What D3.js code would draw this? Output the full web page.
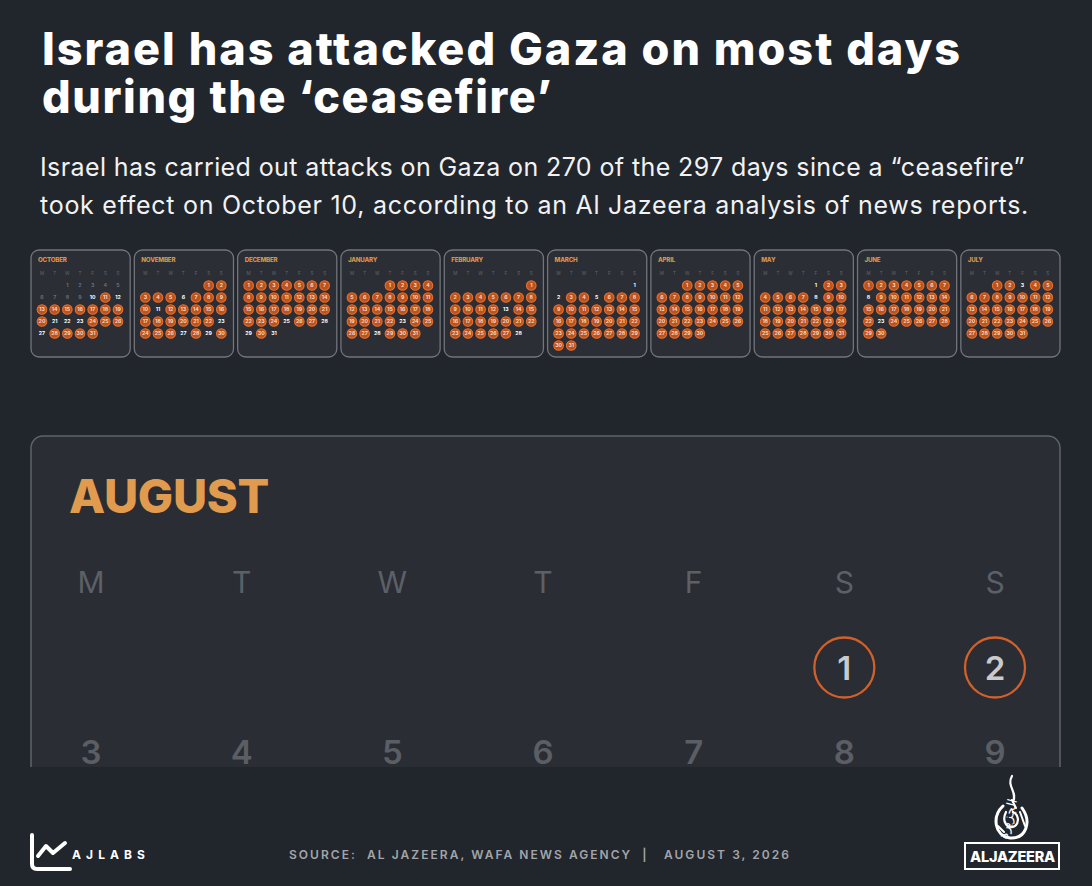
<!DOCTYPE html>
<html><head><meta charset="utf-8">
<script src="https://cdn.jsdelivr.net/npm/d3@7"></script>
<style>
html,body{margin:0;padding:0;background:#21252c;}
svg{display:block;}
</style></head><body>
<svg id="chart" width="1092" height="886"></svg>
<script>
// ---------------- DATA ----------------
const titleLines = ["Israel has attacked Gaza on most days", "during the \u2018ceasefire\u2019"];
const subtitleLines = [
  "Israel has carried out attacks on Gaza on 270 of the 297 days since a \u201cceasefire\u201d",
  "took effect on October 10, according to an Al Jazeera analysis of news reports."
];
const weekdayLabels = ["M","T","W","T","F","S","S"];
const monthNames = ["OCTOBER","NOVEMBER","DECEMBER","JANUARY","FEBRUARY","MARCH","APRIL","MAY","JUNE","JULY"];
const monthYears = [2025,2025,2025,2026,2026,2026,2026,2026,2026,2026];
const monthIndex = [9,10,11,0,1,2,3,4,5,6];
const ceasefireStart = {month: "OCTOBER", day: 10};
const attackedOct = [11,13,14,15,16,17,18,19,20,24,25,26,28,29,30,31];
const attackedNov = [1,2,3,4,5,7,8,9,10,12,13,14,15,16,17,18,19,20,21,22,24,25,26,28,30];
const attackedDec = [1,2,3,4,5,6,7,8,9,10,11,12,13,14,15,16,17,18,19,20,21,22,23,24,26,27,30];
const attackedJan = [1,2,3,4,5,6,7,8,9,10,11,12,13,14,15,16,17,18,19,20,21,22,24,25,26,27,29,30,31];
const attackedFeb = [1,2,3,4,5,6,7,8,9,10,11,12,14,15,16,17,18,19,20,21,22,23,24,25,26,27];
const attackedMar = [3,4,6,7,8,9,10,11,12,13,14,15,16,17,18,19,20,21,22,23,24,25,26,27,28,29,30,31];
const attackedApr = [1,2,3,4,5,6,7,8,9,10,11,12,13,14,15,16,17,18,19,20,21,22,23,24,25,26,27,28,29,30];
const attackedMay = [2,3,4,5,6,7,9,10,11,12,13,14,15,16,17,18,19,20,21,22,23,24,25,26,27,28,29,30,31];
const attackedJun = [1,2,3,4,5,6,7,9,10,11,12,13,14,15,16,17,18,19,20,21,22,24,25,26,27,28,29,30];
const attackedJul = [1,2,4,5,6,7,8,9,10,11,12,13,14,15,16,17,18,19,20,21,22,23,24,25,26,27,28,29,30,31];
const attackedByMonth = [attackedOct, attackedNov, attackedDec, attackedJan, attackedFeb, attackedMar, attackedApr, attackedMay, attackedJun, attackedJul];
const currentMonth = {name: "AUGUST", year: 2026, index: 7};
const attackedAug = [1,2];
const visibleAugWeeks = 2; // only the first two weeks are visible in the frame
const sourceText = "SOURCE:  AL JAZEERA, WAFA NEWS AGENCY  |   AUGUST 3, 2026";
const brandText = "AJLABS";
const logoText = "ALJAZEERA";
const logoArabic = "\u0627\u0644\u062c\u0632\u064a\u0631\u0629";

// ---------------- HELPERS ----------------
const FONT = "Inter, 'Noto Sans', sans-serif";
const svg = d3.select("#chart");
const W = 1092, H = 886;
svg.append("rect").attr("width", W).attr("height", H).attr("fill", "#21252c");

function fitWidth(sel, target) {
  const w = sel.node().getComputedTextLength();
  const n = sel.text().length;
  sel.attr("letter-spacing", ((target - w) / n).toFixed(3));
}
function monFirst(y, m) { return (new Date(y, m, 1).getDay() + 6) % 7; }
function daysIn(y, m) { return new Date(y, m + 1, 0).getDate(); }
function buildDays(y, m) {
  const off = monFirst(y, m), n = daysIn(y, m);
  return d3.range(1, n + 1).map(d => ({day: d, col: (off + d - 1) % 7, row: Math.floor((off + d - 1) / 7)}));
}

// ---------------- TITLE ----------------
const titleY = [65, 113];
titleLines.forEach((t, i) => {
  const s = svg.append("text").attr("x", 42).attr("y", titleY[i])
    .attr("fill", "#ffffff").attr("font-family", FONT).attr("font-weight", 800)
    .attr("font-size", 45).text(t);
  fitWidth(s, i === 0 ? 920 : 511);
});
const subY = [176, 214];
subtitleLines.forEach((t, i) => {
  const s = svg.append("text").attr("x", 40).attr("y", subY[i])
    .attr("fill", "#f2f2f2").attr("font-family", FONT).attr("font-weight", 400)
    .attr("font-size", 25).text(t);
  fitWidth(s, i === 0 ? 985 : 989);
});

// ---------------- MINI CALENDARS ----------------
const monthBand = d3.scaleBand().domain(monthNames).range([31, 1060]).paddingInner(0.04);
const miniX = d3.scalePoint().domain(d3.range(7)).range([11, 87]);
const miniY = d3.scaleLinear().domain([0, 1]).range([285.5, 297.5]);
const boxTop = 250, boxH = 107;

monthNames.forEach((name, mi) => {
  const g = svg.append("g").attr("transform", `translate(${monthBand(name)},0)`);
  g.append("rect").attr("x", 0).attr("y", boxTop).attr("width", monthBand.bandwidth()).attr("height", boxH)
    .attr("rx", 8).attr("fill", "#2b2e35").attr("stroke", "#72757b").attr("stroke-width", 1.3);
  g.append("text").attr("x", 7).attr("y", 262).attr("fill", "#d9954a")
    .attr("font-family", FONT).attr("font-weight", 800).attr("font-size", 6.2).attr("letter-spacing", -0.2)
    .text(name);
  g.selectAll("text.wd").data(weekdayLabels).join("text").attr("class", "wd")
    .attr("x", (d, i) => miniX(i)).attr("y", 274.5).attr("text-anchor", "middle")
    .attr("fill", "#62666c").attr("font-family", FONT).attr("font-size", 4.5).text(d => d);
  const attacked = new Set(attackedByMonth[mi]);
  const days = buildDays(monthYears[mi], monthIndex[mi]).map(d => Object.assign(d, {
    hit: attacked.has(d.day),
    before: name === ceasefireStart.month && d.day < ceasefireStart.day
  }));
  g.selectAll("circle.hit").data(days.filter(d => d.hit)).join("circle").attr("class", "hit")
    .attr("cx", d => miniX(d.col)).attr("cy", d => miniY(d.row)).attr("r", 4.8)
    .attr("fill", "#bb531c").attr("stroke", "#ea6d2c").attr("stroke-width", 1.1);
  g.selectAll("text.day").data(days).join("text").attr("class", "day")
    .attr("x", d => miniX(d.col)).attr("y", d => miniY(d.row) + 1.9).attr("text-anchor", "middle")
    .attr("fill", d => d.before ? "#6a6d73" : (d.hit ? "#f3d9c8" : "#ffffff"))
    .attr("font-family", FONT).attr("font-weight", 700).attr("font-size", 5.2).text(d => d.day);
});

// ---------------- AUGUST BIG CALENDAR ----------------
svg.append("clipPath").attr("id", "augClip").append("rect")
  .attr("x", 0).attr("y", 0).attr("width", W).attr("height", 767);
const aug = svg.append("g").attr("clip-path", "url(#augClip)");
aug.append("rect").attr("x", 31).attr("y", 436).attr("width", 1029).attr("height", 420)
  .attr("rx", 12).attr("fill", "#2a2d34").attr("stroke", "#5f636a").attr("stroke-width", 1.5);
const augTitle = aug.append("text").attr("x", 69).attr("y", 513).attr("fill", "#e09b4f")
  .attr("font-family", FONT).attr("font-weight", 800).attr("font-size", 47).text(currentMonth.name);
fitWidth(augTitle, 200);

const bigX = d3.scalePoint().domain(d3.range(7)).range([91, 995]);
const bigY = d3.scaleLinear().domain([0, 1]).range([667.5, 752]);
aug.selectAll("text.bwd").data(weekdayLabels).join("text").attr("class", "bwd")
  .attr("x", (d, i) => bigX(i)).attr("y", 592.5).attr("text-anchor", "middle")
  .attr("fill", "#5c6067").attr("font-family", FONT).attr("font-weight", 400).attr("font-size", 30).text(d => d);
const augHit = new Set(attackedAug);
const augDays = buildDays(currentMonth.year, currentMonth.index)
  .filter(d => d.row < visibleAugWeeks)
  .map(d => Object.assign(d, {hit: augHit.has(d.day)}));
aug.selectAll("circle.bhit").data(augDays.filter(d => d.hit)).join("circle").attr("class", "bhit")
  .attr("cx", d => bigX(d.col)).attr("cy", d => bigY(d.row)).attr("r", 30)
  .attr("fill", "none").attr("stroke", "#d1612a").attr("stroke-width", 2.3);
aug.selectAll("text.bday").data(augDays).join("text").attr("class", "bday")
  .attr("x", d => bigX(d.col)).attr("y", d => bigY(d.row) + 12).attr("text-anchor", "middle")
  .attr("fill", d => d.hit ? "#c9cacd" : "#5b5e64")
  .attr("font-family", FONT).attr("font-weight", 600).attr("font-size", 33).text(d => d.day);

// ---------------- FOOTER ----------------
const foot = svg.append("g");
foot.append("path").attr("d", "M32,835 L32,864 Q32,869 37,869 L70,869")
  .attr("fill", "none").attr("stroke", "#ffffff").attr("stroke-width", 4).attr("stroke-linecap", "round");
foot.append("path").attr("d", "M38,856 L46,846 L53,853 L65,843")
  .attr("fill", "none").attr("stroke", "#ffffff").attr("stroke-width", 4)
  .attr("stroke-linecap", "round").attr("stroke-linejoin", "round");
const aj = foot.append("text").attr("x", 72).attr("y", 859).attr("fill", "#ffffff")
  .attr("font-family", FONT).attr("font-weight", 700).attr("font-size", 12).text(brandText);
fitWidth(aj, 78);
const src = foot.append("text").attr("x", 289).attr("y", 859).attr("fill", "#a3a5a9")
  .attr("font-family", FONT).attr("font-weight", 600).attr("font-size", 12).attr("xml:space", "preserve")
  .style("white-space", "pre").text(sourceText);
fitWidth(src, 502);

// Al Jazeera logo (approximate calligraphic drop)
const logo = foot.append("g").attr("fill", "none").attr("stroke", "#ffffff").attr("stroke-linecap", "round");
logo.append("path").attr("d", "M1012,776 C1006,786 1018,792 1013,802").attr("stroke-width", 2.2);
logo.append("path").attr("d", "M1003,806 C992,816 994,836 1010,838 C1026,839 1032,822 1022,808").attr("stroke-width", 3);
logo.append("path").attr("d", "M1006,812 C1001,822 1008,830 1015,826 C1020,822 1018,814 1013,812").attr("stroke-width", 2.2);
logo.append("path").attr("d", "M1012,800 L1016,808 M1020,812 L1025,826 M998,826 L1004,832").attr("stroke-width", 2);
logo.append("text").attr("transform", "translate(1012,820) rotate(-75)").attr("text-anchor", "middle")
  .attr("fill", "#ffffff").attr("stroke", "none").attr("font-family", "'DejaVu Sans', sans-serif")
  .attr("font-size", 13).text(logoArabic);
logo.append("rect").attr("x", 965).attr("y", 843).attr("width", 94).attr("height", 26).attr("stroke-width", 2);
const lt = logo.append("text").attr("x", 970).attr("y", 862).attr("fill", "#ffffff").attr("stroke", "none")
  .attr("font-family", FONT).attr("font-weight", 800).attr("font-size", 14.5).text(logoText);
fitWidth(lt, 85);
</script>
</body></html>
